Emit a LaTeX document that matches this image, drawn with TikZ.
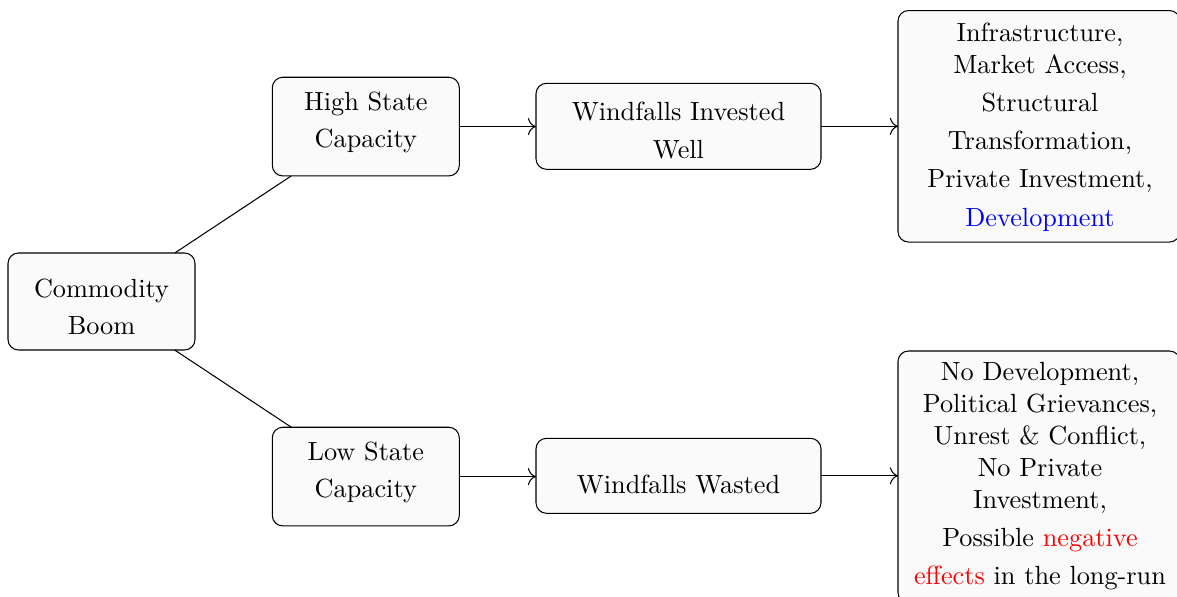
\documentclass[tikz,border=0pt]{standalone}
\usetikzlibrary{arrows.meta}
\begin{document}
\begin{tikzpicture}[x=0.3807pt,y=-0.3807pt,
  box/.style={draw=black, rounded corners=4pt, fill=black!2, inner sep=0pt, outer sep=0pt, line width=0.4pt},
  txt/.style={anchor=base, inner sep=0pt, outer sep=0pt},
  conn/.style={-{To[scale=1.25]}, line width=0.4pt}]
\useasboundingbox (0,0) rectangle (1177,597);
% boxes
\node[box, minimum width=187*0.3807pt, minimum height=97*0.3807pt] (cb) at (101.5,301.5) {};
\node[box, minimum width=187*0.3807pt, minimum height=98.7*0.3807pt] (hsc) at (365.8,126.6) {};
\node[box, minimum width=187*0.3807pt, minimum height=98.7*0.3807pt] (lsc) at (365.8,476.6) {};
\node[box, minimum width=285*0.3807pt, minimum height=86*0.3807pt] (wiw) at (678.5,126.3) {};
\node[box, minimum width=285*0.3807pt, minimum height=75*0.3807pt] (ww) at (678.5,475.8) {};
\node[box, minimum width=282*0.3807pt, minimum height=231.5*0.3807pt] (tr) at (1039,126.3) {};
\node[box, minimum width=282*0.3807pt, minimum height=252*0.3807pt] (br) at (1039,477) {};
% texts
\node[txt] (cb1) at (101.5,297.3) {Commodity};
\node[txt] (cb2) at (101.5,335) {Boom};
\node[txt] (hs1) at (365.8,110.7) {High State};
\node[txt] (hs2) at (365.8,147.3) {Capacity};
\node[txt] (ls1) at (365.8,460.7) {Low State};
\node[txt] (ls2) at (365.8,497.3) {Capacity};
\node[txt] (wi1) at (678.5,120.7) {Windfalls Invested};
\node[txt] (wi2) at (678.5,158.3) {Well};
\node[txt] (ww1) at (678.5,493.3) {Windfalls Wasted};
\node[txt] (tr1) at (1040,41.7) {Infrastructure,};
\node[txt] (tr2) at (1040,73.3) {Market Access,};
\node[txt] (tr3) at (1040,111.7) {Structural};
\node[txt] (tr4) at (1040,150) {Transformation,};
\node[txt] (tr5) at (1040,188) {Private Investment,};
\node[txt] (tr6) at (1040,226.7) {\textcolor{blue}{Development}};
\node[txt] (br1) at (1040,381) {No Development,};
\node[txt] (br2) at (1040,413) {Political Grievances,};
\node[txt] (br3) at (1040,445) {Unrest \& Conflict,};
\node[txt] (br4) at (1040,477) {No Private};
\node[txt] (br5) at (1040,508.5) {Investment,};
\node[txt] (br6) at (1040,547) {Possible \textcolor{red}{negative}};
\node[txt] (br7) at (1040,585) {\textcolor{red}{effects} in the long-run};
% connectors
\draw[line width=0.4pt] (cb) -- (hsc);
\draw[line width=0.4pt] (cb) -- (lsc);
\draw[conn] (hsc.east) -- (wiw.west |- hsc.east);
\draw[conn] (wiw.east) -- (tr.west |- wiw.east);
\draw[conn] (lsc.east) -- (ww.west |- lsc.east);
\draw[conn] (ww.east) -- (br.west |- ww.east);
\end{tikzpicture}
\end{document}
